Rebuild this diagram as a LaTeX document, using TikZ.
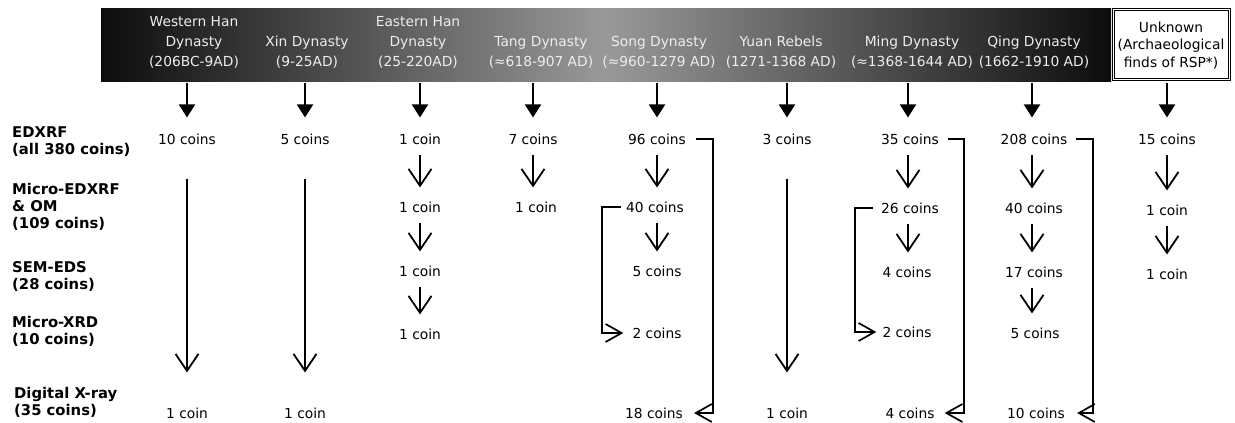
\documentclass[tikz,border=0pt]{standalone}
\usepackage{fontspec}
\setmainfont{DejaVu Sans}
\usetikzlibrary{arrows.meta}
\begin{document}
\begin{tikzpicture}[x=1pt,y=-1pt,
  hdr/.style={text=white!93!black, align=center, font=\fontsize{13.8}{20}\selectfont, inner sep=0pt},
  unk/.style={text=black, align=center, font=\fontsize{13.8}{17.5}\selectfont, inner sep=0pt},
  val/.style={font=\fontsize{13.8}{16}\selectfont, inner sep=0pt},
  lbl/.style={font=\fontsize{14.8}{17}\selectfont\bfseries, align=left, anchor=west, inner sep=0pt},
  harrow/.style={line width=2pt, -{Triangle[width=16pt,length=13pt]}, shorten >=16pt},
  varrow/.style={line width=1.8pt, -{Straight Barb[width=23pt,length=17pt]}, shorten <=10pt, shorten >=14pt},
  brk/.style={line width=1.7pt, -{Straight Barb[width=18pt,length=16pt]}}
]
\useasboundingbox (0,0) rectangle (1235,423);

% header band
\shade[left color=black!95, right color=black!95, middle color=black!40] (101,8) rectangle (1111,81);
\draw[double, double distance=1.4pt, line width=0.9pt, fill=white] (1113.5,9.5) rectangle (1229.5,79.5);

\node[hdr] (h1) at (194,42) {Western Han\\Dynasty\\(206BC-9AD)};
\node[hdr] (h2) at (307,52) {Xin Dynasty\\(9-25AD)};
\node[hdr] (h3) at (418,42) {Eastern Han\\Dynasty\\(25-220AD)};
\node[hdr] (h4) at (541,52) {Tang Dynasty\\(≈618-907 AD)};
\node[hdr] (h5) at (659,52) {Song Dynasty\\(≈960-1279 AD)};
\node[hdr] (h6) at (781,52) {Yuan Rebels\\(1271-1368 AD)};
\node[hdr] (h7) at (912,52) {Ming Dynasty\\(≈1368-1644 AD)};
\node[hdr] (h8) at (1034,52) {Qing Dynasty\\(1662-1910 AD)};
\node[unk] (h9) at (1171,45.5) {Unknown\\(Archaeological\\finds of RSP*)};

% arrow starts at the band bottom
\coordinate (c1) at (187,83);
\coordinate (c2) at (305,83);
\coordinate (c3) at (420,83);
\coordinate (c4) at (533,83);
\coordinate (c5) at (657,83);
\coordinate (c6) at (787,83);
\coordinate (c7) at (908,83);
\coordinate (c8) at (1032,83);
\coordinate (c9) at (1167,83);

% row labels
\node[lbl] (L1) at (12,141.5) {EDXRF\\(all 380 coins)};
\node[lbl] (L2) at (12,207) {Micro-EDXRF\\\& OM\\(109 coins)};
\node[lbl] (L3) at (12,276.5) {SEM-EDS\\(28 coins)};
\node[lbl] (L4) at (12,331) {Micro-XRD\\(10 coins)};
\node[lbl] (L5) at (14,402.5) {Digital X-ray\\(35 coins)};

% values
\node[val] (wh1) at (187,139) {10 coins};
\node[val] (wh5) at (187,413) {1 coin};
\node[val] (xn1) at (305,139) {5 coins};
\node[val] (xn5) at (305,413) {1 coin};
\node[val] (eh1) at (420,139) {1 coin};
\node[val] (eh2) at (420,207) {1 coin};
\node[val] (eh3) at (420,271) {1 coin};
\node[val] (eh4) at (420,334) {1 coin};
\node[val] (tg1) at (533,139) {7 coins};
\node[val] (tg2) at (536,207) {1 coin};
\node[val] (sg1) at (657,139) {96 coins};
\node[val] (sg2) at (655,207) {40 coins};
\node[val] (sg3) at (657,271) {5 coins};
\node[val] (sg4) at (657,333) {2 coins};
\node[val] (sg5) at (654,413) {18 coins};
\node[val] (yu1) at (787,139) {3 coins};
\node[val] (yu5) at (787,413) {1 coin};
\node[val] (mg1) at (910,139) {35 coins};
\node[val] (mg2) at (910,208) {26 coins};
\node[val] (mg3) at (907,272) {4 coins};
\node[val] (mg4) at (907,332) {2 coins};
\node[val] (mg5) at (910,413) {4 coins};
\node[val] (qg1) at (1034,139) {208 coins};
\node[val] (qg2) at (1034,208) {40 coins};
\node[val] (qg3) at (1034,272) {17 coins};
\node[val] (qg4) at (1035,333) {5 coins};
\node[val] (qg5) at (1036,413) {10 coins};
\node[val] (un1) at (1167,139) {15 coins};
\node[val] (un2) at (1167,210) {1 coin};
\node[val] (un3) at (1167,274) {1 coin};

% header arrows
\draw[harrow] (c1) -- (wh1.north -| c1);
\draw[harrow] (c2) -- (xn1.north -| c2);
\draw[harrow] (c3) -- (eh1.north -| c3);
\draw[harrow] (c4) -- (tg1.north -| c4);
\draw[harrow] (c5) -- (sg1.north -| c5);
\draw[harrow] (c6) -- (yu1.north -| c6);
\draw[harrow] (c7) -- (mg1.north -| c7);
\draw[harrow] (c8) -- (qg1.north -| c8);
\draw[harrow] (c9) -- (un1.north -| c9);

% step arrows
\draw[varrow] (eh1.south) -- (eh2.north -| eh1.south);
\draw[varrow] (eh2.south) -- (eh3.north -| eh2.south);
\draw[varrow] (eh3.south) -- (eh4.north -| eh3.south);
\draw[varrow] (tg1.south) -- (tg2.north -| tg1.south);
\draw[varrow] (sg1.south) -- (sg2.north -| sg1.south);
\draw[varrow] (sg2.south -| sg1.south) -- (sg3.north -| sg1.south);
\draw[varrow] (mg1.south -| c7) -- (mg2.north -| c7);
\draw[varrow] (mg2.south -| c7) -- (mg3.north -| c7);
\draw[varrow] (qg1.south -| c8) -- (qg2.north -| c8);
\draw[varrow] (qg2.south -| c8) -- (qg3.north -| c8);
\draw[varrow] (qg3.south -| c8) -- (qg4.north -| c8);
\draw[varrow] (un1.south) -- (un2.north);
\draw[varrow] (un2.south) -- (un3.north);

% long arrows
\draw[varrow, shorten <=34pt, shorten >=35pt] (wh1.south) -- (wh5.north);
\draw[varrow, shorten <=34pt, shorten >=35pt] (xn1.south) -- (xn5.north);
\draw[varrow, shorten <=34pt, shorten >=35pt] (yu1.south) -- (yu5.north);

% brackets
\draw[brk] ([xshift=10pt]sg1.east) -- ++(17,0) |- ([xshift=11pt]sg5.east);
\draw[brk] ([xshift=-5pt]sg2.west) -- ++(-19,0) |- ([xshift=-9pt]sg4.west);
\draw[brk] ([xshift=9pt]mg1.east) -- ++(16,0) |- ([xshift=10pt]mg5.east);
\draw[brk] ([xshift=-8pt]mg2.west) -- ++(-18,0) |- ([xshift=-6pt]mg4.west);
\draw[brk] ([xshift=9pt]qg1.east) -- ++(16.6,0) |- ([xshift=12pt]qg5.east);
\end{tikzpicture}
\end{document}
